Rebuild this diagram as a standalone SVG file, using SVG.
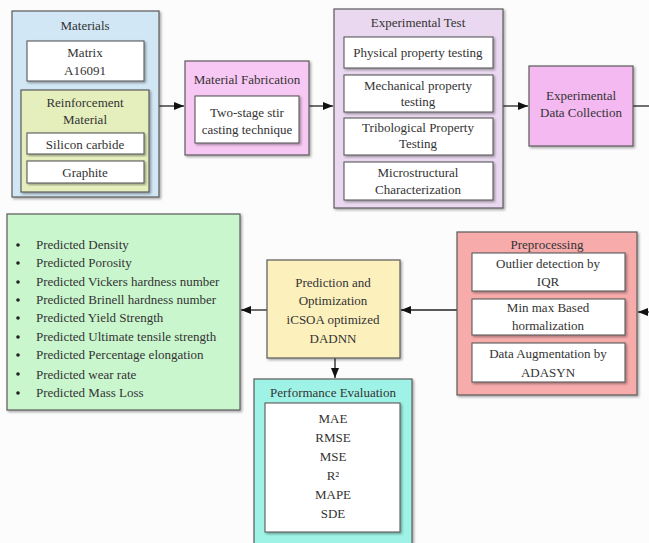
<svg xmlns="http://www.w3.org/2000/svg" width="649" height="543" viewBox="0 0 649 543">
<defs>
<filter id="sh" x="-10%" y="-10%" width="120%" height="120%">
<feDropShadow dx="1.5" dy="1.5" stdDeviation="1" flood-color="#000" flood-opacity="0.35"/>
</filter>
<marker id="ah" markerWidth="10" markerHeight="8" refX="10" refY="4" orient="auto" markerUnits="userSpaceOnUse">
<path d="M0,0 L10,4 L0,8 Z" fill="#111"/>
</marker>
<style>
text{font-family:"Liberation Serif","Times New Roman",serif;font-size:13px;fill:#333;text-anchor:middle;}
.l{text-anchor:start;}
.box{stroke:#5a5a5a;stroke-width:1.2;filter:url(#sh);}
.in{fill:#fff;stroke:#5a5a5a;stroke-width:1.1;filter:url(#sh);}
.c{stroke:#222;stroke-width:1.3;fill:none;}
</style>
</defs>
<rect width="649" height="543" fill="#fcfcfc"/>

<g id="connectors">
<line class="c" x1="159" y1="106" x2="184" y2="106" marker-end="url(#ah)"/>
<line class="c" x1="309" y1="106" x2="333" y2="106" marker-end="url(#ah)"/>
<line class="c" x1="503" y1="106" x2="528" y2="106" marker-end="url(#ah)"/>
<line class="c" x1="633" y1="106" x2="649" y2="106"/>
<line class="c" x1="649" y1="312" x2="638" y2="312" marker-end="url(#ah)"/>
<line class="c" x1="457" y1="310" x2="401" y2="310" marker-end="url(#ah)"/>
<line class="c" x1="267" y1="310" x2="241" y2="310" marker-end="url(#ah)"/>
<line class="c" x1="335" y1="358" x2="335" y2="378" marker-end="url(#ah)"/>
</g>

<g id="materials">
<rect class="box" x="12" y="11" width="147" height="186" fill="#d2e7f5"/>
<text x="85" y="30">Materials</text>
<rect class="in" x="27" y="41" width="117" height="40"/>
<text x="85" y="57">Matrix</text>
<text x="85" y="75">A16091</text>
<g id="reinforcement">
<rect class="box" x="21" y="90" width="128" height="102" fill="#e5efbd"/>
<text x="85" y="107">Reinforcement</text>
<text x="85" y="124">Material</text>
<rect class="in" x="27" y="133" width="117" height="21"/>
<text x="85" y="149">Silicon carbide</text>
<rect class="in" x="27" y="161" width="117" height="22"/>
<text x="85" y="177">Graphite</text>
</g>
</g>

<g id="fabrication">
<rect class="box" x="185" y="61" width="124" height="94" fill="#f8c8f4"/>
<text x="247" y="84">Material Fabrication</text>
<rect class="in" x="195" y="96" width="104" height="47"/>
<text x="247" y="117">Two-stage stir</text>
<text x="247" y="134">casting technique</text>
</g>

<g id="experimental-test">
<rect class="box" x="334" y="9" width="169" height="199" fill="#e9d8ef"/>
<text x="418" y="27">Experimental Test</text>
<rect class="in" x="344" y="37" width="149" height="31"/>
<text x="418" y="57">Physical property testing</text>
<rect class="in" x="344" y="75" width="149" height="37"/>
<text x="418" y="90">Mechanical property</text>
<text x="418" y="106">testing</text>
<rect class="in" x="344" y="118" width="149" height="37"/>
<text x="418" y="132">Tribological Property</text>
<text x="418" y="148">Testing</text>
<rect class="in" x="344" y="162" width="149" height="38"/>
<text x="418" y="177">Microstructural</text>
<text x="418" y="194">Characterization</text>
</g>

<g id="data-collection">
<rect class="box" x="529" y="66" width="104" height="80" fill="#f5b9f1"/>
<text x="581" y="100">Experimental</text>
<text x="581" y="117">Data Collection</text>
</g>

<g id="preprocessing">
<rect class="box" x="457" y="232" width="180" height="163" fill="#f7abab"/>
<text x="547" y="249">Preprocessing</text>
<rect class="in" x="472" y="253" width="153" height="38"/>
<text x="548" y="268">Outlier detection by</text>
<text x="548" y="286">IQR</text>
<rect class="in" x="472" y="299" width="153" height="36"/>
<text x="548" y="312">Min max Based</text>
<text x="548" y="330">hormalization</text>
<rect class="in" x="472" y="343" width="153" height="39"/>
<text x="548" y="358">Data Augmentation by</text>
<text x="548" y="377">ADASYN</text>
</g>

<g id="prediction">
<rect class="box" x="267" y="260" width="133" height="98" fill="#fcf0bd"/>
<text x="333" y="287">Prediction and</text>
<text x="333" y="305">Optimization</text>
<text x="333" y="324">iCSOA optimized</text>
<text x="333" y="343">DADNN</text>
</g>

<g id="outputs">
<rect class="box" x="7" y="214" width="233" height="196" fill="#caf6ce"/>
<g fill="#222">
<circle cx="18" cy="245" r="1.8"/><circle cx="18" cy="263" r="1.8"/><circle cx="18" cy="282" r="1.8"/>
<circle cx="18" cy="300" r="1.8"/><circle cx="18" cy="318" r="1.8"/><circle cx="18" cy="337" r="1.8"/>
<circle cx="18" cy="355" r="1.8"/><circle cx="18" cy="374" r="1.8"/><circle cx="18" cy="393" r="1.8"/>
</g>
<text class="l" x="36" y="249">Predicted Density</text>
<text class="l" x="36" y="267">Predicted Porosity</text>
<text class="l" x="36" y="286">Predicted Vickers hardness number</text>
<text class="l" x="36" y="304">Predicted Brinell hardness number</text>
<text class="l" x="36" y="322">Predicted Yield Strength</text>
<text class="l" x="36" y="341">Predicted Ultimate tensile strength</text>
<text class="l" x="36" y="359">Predicted Percentage elongation</text>
<text class="l" x="36" y="379">Predicted wear rate</text>
<text class="l" x="36" y="397">Predicted Mass Loss</text>
</g>

<g id="performance">
<rect class="box" x="254" y="379" width="158" height="170" fill="#9ff3e6"/>
<text x="333" y="397">Performance Evaluation</text>
<rect class="in" x="265" y="403" width="135" height="129"/>
<text x="333" y="423">MAE</text>
<text x="333" y="442">RMSE</text>
<text x="333" y="461">MSE</text>
<text x="333" y="480">R²</text>
<text x="333" y="499">MAPE</text>
<text x="333" y="518">SDE</text>
</g>
</svg>
